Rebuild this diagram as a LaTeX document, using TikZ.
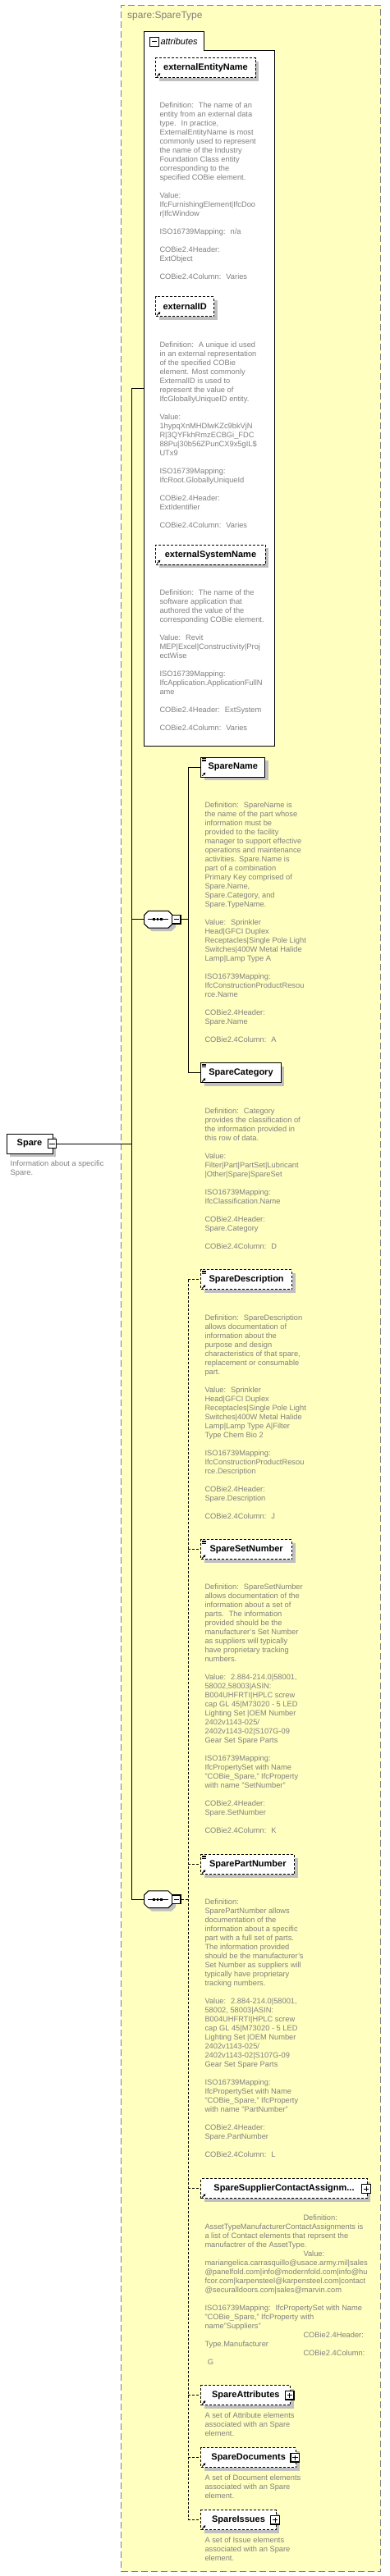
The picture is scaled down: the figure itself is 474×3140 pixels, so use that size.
\documentclass[tikz,border=0pt]{standalone}
\usepackage{fontspec}
\setmainfont{Liberation Sans}
\usetikzlibrary{shadows,arrows.meta}
\definecolor{ybg}{HTML}{FFFFC0}
\definecolor{dgray}{HTML}{808080}
\definecolor{shd}{HTML}{C0C0C0}
\tikzset{
 elbox/.style={draw=black, line width=1pt, fill=white, minimum height=24pt, inner sep=0pt, anchor=north west, font=\fontsize{11}{13}\selectfont\bfseries, drop shadow={shadow xshift=4pt, shadow yshift=-4pt, fill=shd, opacity=1}},
 optbox/.style={elbox, dash pattern=on 3pt off 2pt},
 descr/.style={anchor=north west, inner sep=0pt, align=left, text=dgray, font=\fontsize{9.3}{11}\selectfont},
 pmbox/.style={draw=black, line width=1.2pt, fill=white, minimum size=10.5pt, inner sep=0pt},
 con/.style={draw=black, line width=1pt},
 dcon/.style={draw=black, line width=1pt, dash pattern=on 3pt off 2pt},
 hidden/.style={inner sep=0pt, outer sep=0pt, draw=none},
}
\newcommand\pmminus[1]{\draw[line width=1pt] ([xshift=-3.2pt]#1.center) -- ([xshift=3.2pt]#1.center);}
\newcommand\pmplus[1]{\pmminus{#1}\draw[line width=1pt] ([yshift=-3.2pt]#1.center) -- ([yshift=3.2pt]#1.center);}
\newcommand\refarr[1]{\draw[line width=0.9pt,-{Triangle[length=2.6pt,width=3.2pt]}] ([shift={(1.8,-1.8)}]#1.south west) -- ++(4.2,-4.2);}
\newcommand\elicon[1]{\foreach \k in {1.6,3.3,5} {\draw[line width=0.8pt] ([shift={(1.5,\k)}]#1.north west) -- ++(5.5,0);}}
\newcommand\dsc[4]{\node[descr] (#1) at (#2,#3-4.7) {\rule{0pt}{8pt}#4};}
\newcommand\seqoct[1]{%
 \fill[shd] ([shift={(4,4)}]#1.center) ++(-12.15,-10.35) -- ++(24.3,0) -- ++(5,5) -- ++(0,10.7) -- ++(-5,5) -- ++(-24.3,0) -- ++(-5,-5) -- ++(0,-10.7) -- cycle;
 \draw[con, fill=white] (#1.center) ++(-12.15,-10.35) -- ++(24.3,0) -- ++(5,5) -- ++(0,10.7) -- ++(-5,5) -- ++(-24.3,0) -- ++(-5,-5) -- ++(0,-10.7) -- cycle;
 \draw[con] ([xshift=-12.85pt]#1.center) -- ([xshift=12.45pt]#1.center);
 \foreach \dx in {-6.85,-2.15,2.45} {\fill ([shift={(\dx,-1.5)}]#1.center) rectangle ++(2.7,3);}
}
\begin{document}
\begin{tikzpicture}[x=1pt,y=-1pt]
\useasboundingbox (0,0) rectangle (474,3140);
% type container
\node[draw=dgray, dash pattern=on 8pt off 4pt, fill=ybg, line width=1pt, minimum width=316pt, minimum height=3128.6pt, anchor=north west, inner sep=0pt] (stype) at (147.3,5.7) {};
\node[anchor=base west, inner sep=0pt, text=dgray, font=\fontsize{12}{14}\selectfont] (ttl) at (155,22.5) {spare:SpareType};
% attributes container
\node[hidden, minimum width=158.6pt, minimum height=870.7pt, anchor=north west] (attrs) at (175.7,38.3) {};
\draw[con, fill=white] (attrs.north west) -- ++(72.6,0) -- ++(0,23.4) -| (attrs.south east) -- (attrs.south west) -- cycle;
\node[pmbox] (attrpm) at (188,50.9) {};
\pmminus{attrpm}
\node[anchor=base west, inner sep=0pt, font=\fontsize{11}{13}\selectfont\itshape] (attrlbl) at (195.3,54.5) {attributes};
% attributes
\node[optbox, minimum width=121.4pt] (aEEN) at (189.3,70.3) {externalEntityName};
\refarr{aEEN}
\dsc{dEEN}{194.3}{128.3}{Definition:~ The name of an\\
entity from an external data\\
type.~ In practice,\\
ExternalEntityName is most\\
commonly used to represent\\
the name of the Industry\\
Foundation Class entity\\
corresponding to the\\
specified COBie element.\\[11pt]
Value:\\
IfcFurnishingElement|IfcDoo\\
r|IfcWindow\\[11pt]
ISO16739Mapping:~ n/a\\[11pt]
COBie2.4Header:\\
ExtObject\\[11pt]
COBie2.4Column:~ Varies}
\node[optbox, minimum width=70.7pt] (aEID) at (189.3,361.3) {externalID};
\refarr{aEID}
\dsc{dEID}{194.3}{419.7}{Definition:~ A unique id used\\
in an external representation\\
of the specified COBie\\
element. Most commonly\\
ExternalID is used to\\
represent the value of\\
IfcGloballyUniqueID entity.\\[11pt]
Value:\\
1hypqXnMHDlwKZc9bkVjN\\
R|3QYFkhRmzECBGi\_FDC\\
88Pu|30b56ZPunCX9x5gIL\$\\
UTx9\\[11pt]
ISO16739Mapping:\\
IfcRoot.GloballyUniqueId\\[11pt]
COBie2.4Header:\\
ExtIdentifier\\[11pt]
COBie2.4Column:~ Varies}
\node[optbox, minimum width=133.4pt] (aESN) at (189.3,663.7) {externalSystemName};
\refarr{aESN}
\dsc{dESN}{194.3}{721.7}{Definition:~ The name of the\\
software application that\\
authored the value of the\\
corresponding COBie element.\\[11pt]
Value:~ Revit\\
MEP|Excel|Constructivity|Proj\\
ectWise\\[11pt]
ISO16739Mapping:\\
IfcApplication.ApplicationFullN\\
ame\\[11pt]
COBie2.4Header:~ ExtSystem\\[11pt]
COBie2.4Column:~ Varies}
% root element
\node[elbox, anchor=center, minimum width=56pt] (spare) at (36,1394) {Spare};
\node[pmbox] (sparepm) at (63.5,1394) {};
\pmminus{sparepm}
\dsc{dspare}{12.5}{1418.3}{Information about a specific\\
Spare.}
% bus coordinates
\coordinate (busA) at (160,0);
\coordinate (busB) at (229.3,0);
% sequences
\node[hidden, minimum width=34.3pt, minimum height=20.7pt] (seq1) at (192.85,1120.7) {};
\node[hidden, minimum width=34.3pt, minimum height=20.7pt] (seq2) at (192.85,2315.3) {};
% connectors level 1
\draw[con] (attrs.west) -- (attrs.west -| busA) -- (seq2.west -| busA) -- (seq2.west);
\draw[con] (seq1.west -| busA) -- (seq1.west);
\draw[con] (sparepm.east) -- (sparepm.east -| busA);
\seqoct{seq1}
\seqoct{seq2}
\node[pmbox] (seq1pm) at (214.7,1120.7) {};
\pmminus{seq1pm}
\node[pmbox] (seq2pm) at (214.7,2315.3) {};
\pmminus{seq2pm}
% elements first sequence
\node[elbox, minimum width=78pt] (sname) at (244.3,922.7) {SpareName};
\node[elbox, minimum width=97.4pt] (scat) at (244.3,1295.3) {SpareCategory};
\draw[con] (seq1pm.east) -- (seq1pm.east -| busB);
\draw[con] (sname.west) -- (sname.west -| busB) -- (scat.west -| busB) -- (scat.west);
\elicon{sname}\refarr{sname}
\elicon{scat}\refarr{scat}
\dsc{dsname}{249.3}{980.7}{Definition:~ SpareName is\\
the name of the part whose\\
information must be\\
provided to the facility\\
manager to support effective\\
operations and maintenance\\
activities. Spare.Name is\\
part of a combination\\
Primary Key comprised of\\
Spare.Name,\\
Spare.Category, and\\
Spare.TypeName.\\[11pt]
Value:~ Sprinkler\\
Head|GFCI Duplex\\
Receptacles|Single Pole Light\\
Switches|400W Metal Halide\\
Lamp|Lamp Type A\\[11pt]
ISO16739Mapping:\\
IfcConstructionProductResou\\
rce.Name\\[11pt]
COBie2.4Header:\\
Spare.Name\\[11pt]
COBie2.4Column:~ A}
\dsc{dscat}{249.3}{1353.7}{Definition:~ Category\\
provides the classification of\\
the information provided in\\
this row of data.\\[11pt]
Value:\\
Filter|Part|PartSet|Lubricant\\
|Other|Spare|SpareSet\\[11pt]
ISO16739Mapping:\\
IfcClassification.Name\\[11pt]
COBie2.4Header:\\
Spare.Category\\[11pt]
COBie2.4Column:~ D}
% elements second sequence
\node[optbox, minimum width=110.7pt] (sdesc) at (244.3,1547.3) {SpareDescription};
\node[optbox, minimum width=110.7pt] (sset) at (244.3,1876.3) {SpareSetNumber};
\node[optbox, minimum width=114pt] (spart) at (244.3,2260.3) {SparePartNumber};
\node[optbox, minimum width=202.4pt] (ssup) at (244.3,2655.3) {SpareSupplierContactAssignm...};
\node[optbox, minimum width=109pt] (sattr) at (244.3,2907.3) {SpareAttributes};
\node[optbox, minimum width=115.7pt] (sdocs) at (244.3,2983.3) {SpareDocuments};
\node[optbox, minimum width=91.4pt] (siss) at (244.3,3059.3) {SpareIssues};
\draw[dcon] (seq2pm.east) -- (seq2pm.east -| busB);
\draw[dcon] (sdesc.west -| busB) -- (siss.west -| busB);
\foreach \n in {sdesc,sset,spart,ssup,sattr,sdocs,siss} {\draw[dcon] (\n.west -| busB) -- (\n.west);}
\foreach \n in {sdesc,sset,spart} {\elicon{\n}}
\foreach \n in {sdesc,sset,spart,ssup,sattr,sdocs,siss} {\refarr{\n}}
\node[pmbox] (ssuppm) at (446,2668) {};\pmplus{ssuppm}
\node[pmbox] (sattrpm) at (352.7,2919.7) {};\pmplus{sattrpm}
\node[pmbox] (sdocspm) at (359.3,2995.7) {};\pmplus{sdocspm}
\node[pmbox] (sisspm) at (335,3071.7) {};\pmplus{sisspm}
\dsc{dsdesc}{249.3}{1605.7}{Definition:~ SpareDescription\\
allows documentation of\\
information about the\\
purpose and design\\
characteristics of that spare,\\
replacement or consumable\\
part.\\[11pt]
Value:~ Sprinkler\\
Head|GFCI Duplex\\
Receptacles|Single Pole Light\\
Switches|400W Metal Halide\\
Lamp|Lamp Type A|Filter\\
Type Chem Bio 2\\[11pt]
ISO16739Mapping:\\
IfcConstructionProductResou\\
rce.Description\\[11pt]
COBie2.4Header:\\
Spare.Description\\[11pt]
COBie2.4Column:~ J}
\dsc{dsset}{249.3}{1934.3}{Definition:~ SpareSetNumber\\
allows documentation of the\\
information about a set of\\
parts.~ The information\\
provided should be the\\
manufacturer's Set Number\\
as suppliers will typically\\
have proprietary tracking\\
numbers.\\[11pt]
Value:~ 2.884-214.0|58001,\\
58002,58003|ASIN:\\
B004UHFRTI|HPLC screw\\
cap GL 45|M73020 - 5 LED\\
Lighting Set |OEM Number\\
2402v1143-025/\\
2402v1143-02|S107G-09\\
Gear Set Spare Parts\\[11pt]
ISO16739Mapping:\\
IfcPropertySet with Name\\
"COBie\_Spare," IfcProperty\\
with name "SetNumber"\\[11pt]
COBie2.4Header:\\
Spare.SetNumber\\[11pt]
COBie2.4Column:~ K}
\dsc{dspart}{249.3}{2318.3}{Definition:\\
SparePartNumber allows\\
documentation of the\\
information about a specific\\
part with a full set of parts.\\
The information provided\\
should be the manufacturer's\\
Set Number as suppliers will\\
typically have proprietary\\
tracking numbers.\\[11pt]
Value:~ 2.884-214.0|58001,\\
58002, 58003|ASIN:\\
B004UHFRTI|HPLC screw\\
cap GL 45|M73020 - 5 LED\\
Lighting Set |OEM Number\\
2402v1143-025/\\
2402v1143-02|S107G-09\\
Gear Set Spare Parts\\[11pt]
ISO16739Mapping:\\
IfcPropertySet with Name\\
"COBie\_Spare," IfcProperty\\
with name "PartNumber"\\[11pt]
COBie2.4Header:\\
Spare.PartNumber\\[11pt]
COBie2.4Column:~ L}
\dsc{dssup}{249.3}{2702.7}{\hspace*{120pt}Definition:\\
AssetTypeManufacturerContactAssignments is\\
a list of Contact elements that reprsent the\\
manufactrer of the AssetType.\\
\hspace*{120pt}Value:\\
mariangelica.carrasquillo@usace.army.mil|sales\\
@panelfold.com|info@modernfold.com|info@hu\\
fcor.com|karpensteel@karpensteel.com|contact\\
@securalldoors.com|sales@marvin.com\\[11pt]
ISO16739Mapping:~ IfcPropertySet with Name\\
"COBie\_Spare," IfcProperty with\\
name"Suppliers"\\
\hspace*{120pt}COBie2.4Header:\\
Type.Manufacturer\\
\hspace*{120pt}COBie2.4Column:\\
\hspace*{3.4pt}G}
\dsc{dsattr}{249.3}{2943.7}{A set of Attribute elements\\
associated with an Spare\\
element.}
\dsc{dsdocs}{249.3}{3019.7}{A set of Document elements\\
associated with an Spare\\
element.}
\dsc{dsiss}{249.3}{3095.7}{A set of Issue elements\\
associated with an Spare\\
element.}
\end{tikzpicture}
\end{document}
